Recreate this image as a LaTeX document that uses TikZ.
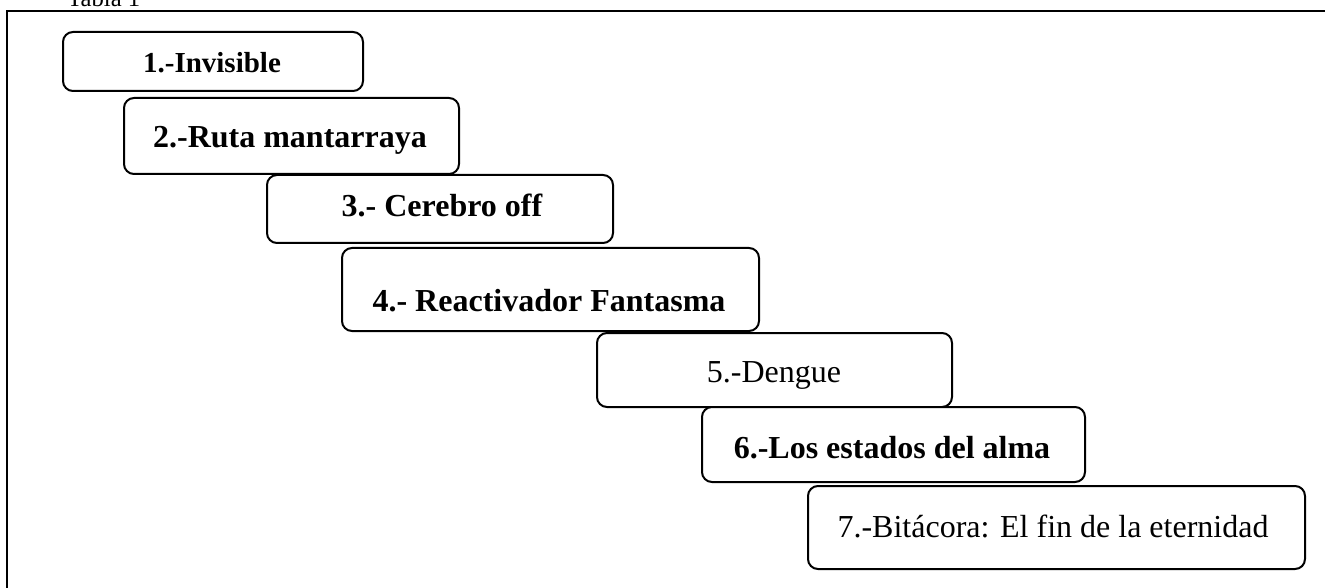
\documentclass[tikz,border=0pt]{standalone}
\usepackage{fontspec}
\setmainfont{Liberation Serif}
\begin{document}
\begin{tikzpicture}[x=0.75pt,y=-0.75pt,
  stepbox/.style={draw=black,fill=white,line width=1.5pt,rounded corners=7.5pt,inner sep=0pt},
  boldtxt/.style={font=\fontsize{24pt}{28pt}\selectfont\bfseries,anchor=base,inner sep=0pt},
  plaintxt/.style={font=\fontsize{24pt}{28pt}\selectfont,anchor=base,inner sep=0pt},
  frame/.style={draw=black,line width=1.6pt}]
\useasboundingbox (0,0) rectangle (1325,588);
% outer frame (continues beyond the page)
\coordinate (fbl) at (7,620);
\coordinate (ftl) at (7,11);
\coordinate (ftr) at (1360,11);
\draw[frame] (fbl) -- (ftl) -- (ftr);
\node[font=\fontsize{18.5pt}{22pt}\selectfont,anchor=base west,inner sep=0pt] (tabla) at (67,7) {Tabla 1};
% boxes
\node[stepbox,minimum width=300*0.75pt,minimum height=59*0.75pt] (b1) at (213,61.5) {};
\node[boldtxt,font=\fontsize{21.75pt}{26pt}\selectfont\bfseries] (t1) at (212,73) {1.-Invisible};
\node[stepbox,minimum width=335*0.75pt,minimum height=76*0.75pt] (b2) at (291.5,136) {};
\node[boldtxt] (t2) at (290,148) {2.-Ruta mantarraya};
\node[stepbox,minimum width=346*0.75pt,minimum height=68*0.75pt] (b3) at (440,209) {};
\node[boldtxt] (t3) at (442,217) {3.- Cerebro off};
\node[stepbox,minimum width=417*0.75pt,minimum height=83*0.75pt] (b4) at (550.5,289.5) {};
\node[boldtxt] (t4) at (549,311) {4.- Reactivador Fantasma};
\node[stepbox,minimum width=355*0.75pt,minimum height=74*0.75pt] (b5) at (774.5,370) {};
\node[plaintxt] (t5) at (774,382) {5.-Dengue};
\node[stepbox,minimum width=383*0.75pt,minimum height=75*0.75pt] (b6) at (893.5,444.5) {};
\node[boldtxt] (t6) at (892,458) {6.-Los estados del alma};
\node[stepbox,minimum width=497*0.75pt,minimum height=83*0.75pt] (b7) at (1056.5,527.5) {};
\node[plaintxt] (t7) at (1053,537) {7.-Bitácora: El fin de la eternidad};
\end{tikzpicture}
\end{document}
